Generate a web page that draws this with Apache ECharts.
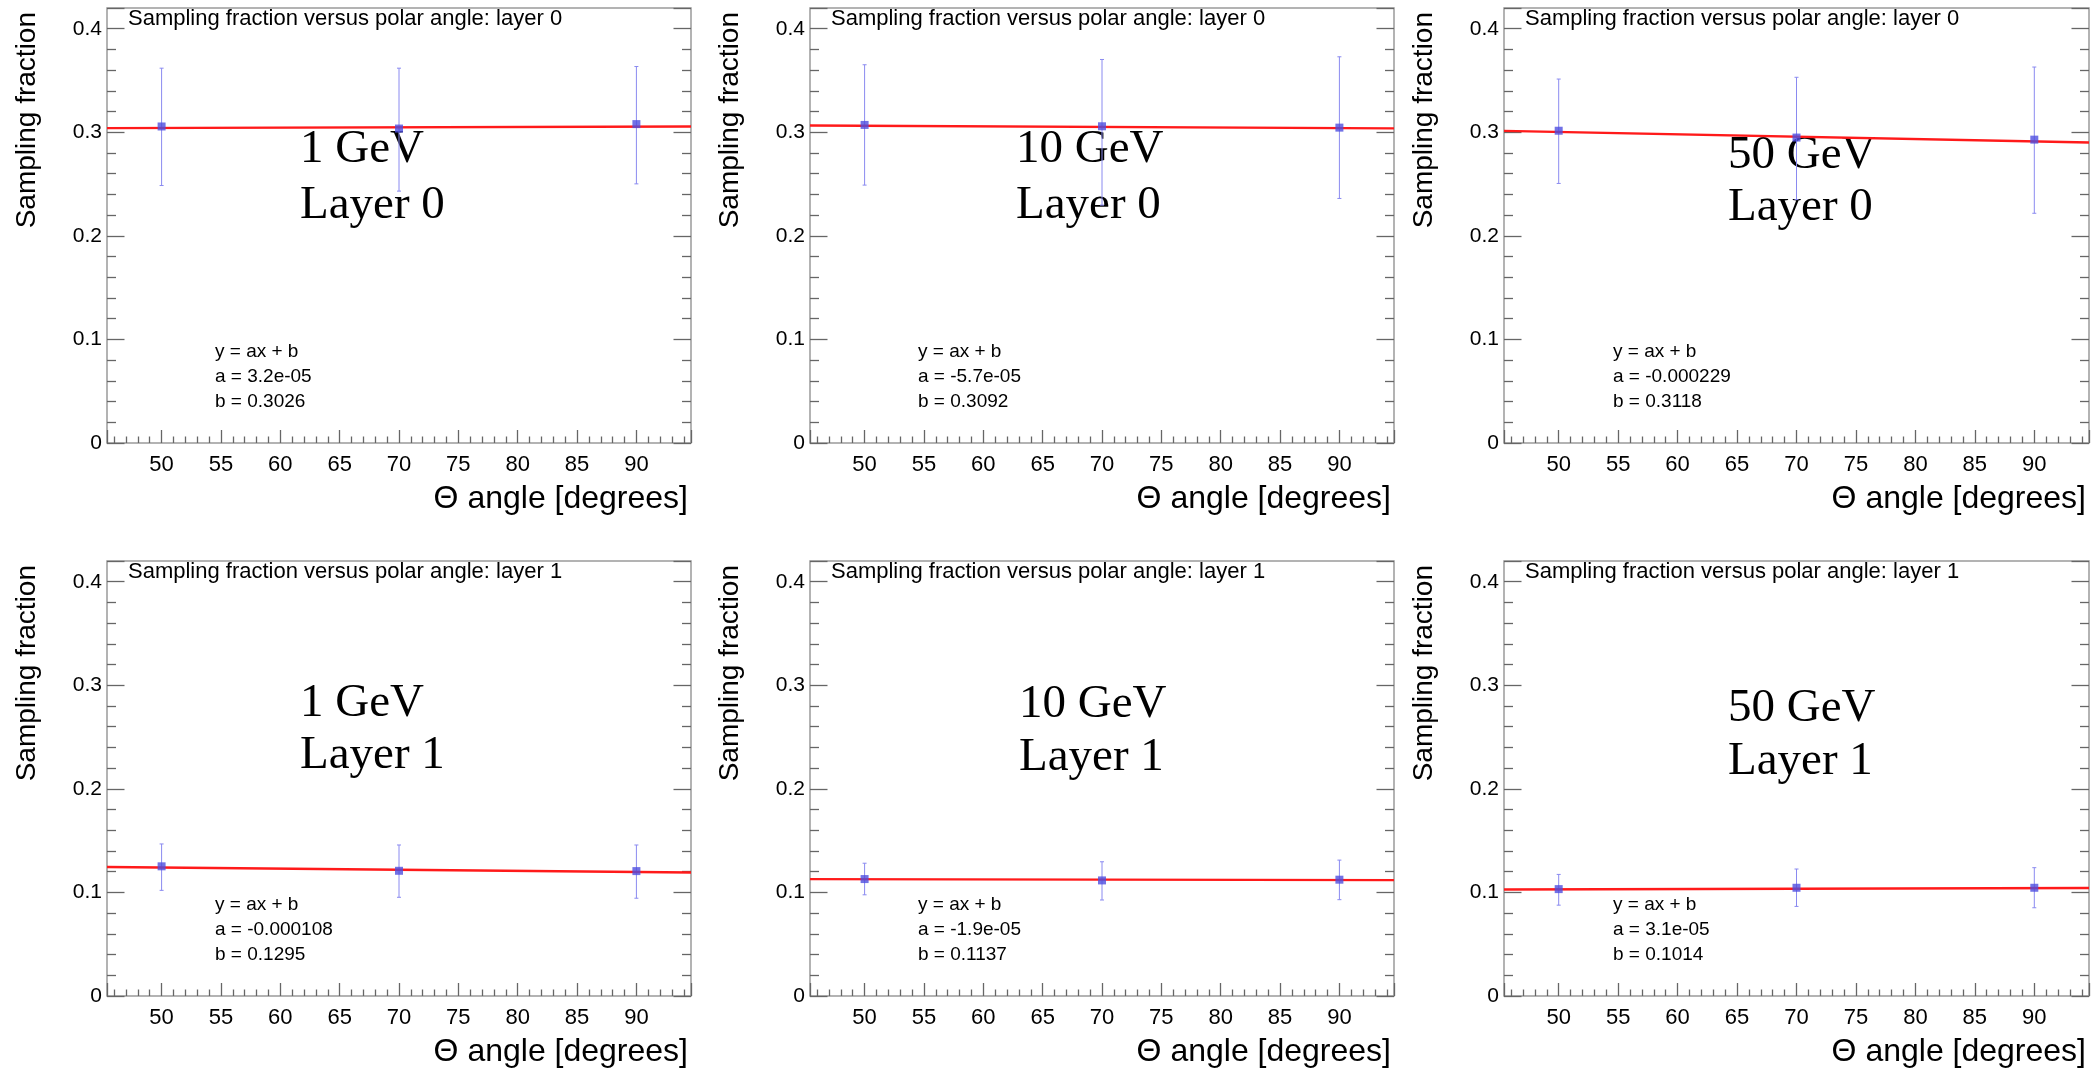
<!DOCTYPE html>
<html><head><meta charset="utf-8">
<script src="https://cdn.jsdelivr.net/npm/echarts@6/dist/echarts.min.js"></script>
<style>html,body{margin:0;padding:0;background:#fff}#c{width:2097px;height:1070px}</style>
</head><body><div id="c"></div>
<script>
// ---------------- data ----------------
const thetaValues = [50, 70, 90];
const xRange = [45.4, 94.6];
const yRange = [0, 0.42];
const energies = ['1 GeV', '10 GeV', '50 GeV'];
const layers = ['Layer 0', 'Layer 1'];
const panelTitles = ['Sampling fraction versus polar angle: layer 0', 'Sampling fraction versus polar angle: layer 1'];
const xTitle = 'Θ angle [degrees]';
const yTitle = 'Sampling fraction';

// measured points (value, lower error end, upper error end)
const p1Y = [0.3056, 0.3036, 0.3079], p1Lo = [0.2486, 0.2432, 0.2502], p1Hi = [0.3619, 0.3619, 0.3635];
const p2Y = [0.3071, 0.3058, 0.3045], p2Lo = [0.2490, 0.2297, 0.2361], p2Hi = [0.3652, 0.3703, 0.3729];
const p3Y = [0.3015, 0.2949, 0.2929], p3Lo = [0.2506, 0.2350, 0.2218], p3Hi = [0.3514, 0.3531, 0.3630];
const p4Y = [0.1252, 0.1209, 0.1206], p4Lo = [0.1020, 0.0953, 0.0944], p4Hi = [0.1468, 0.1458, 0.1458];
const p5Y = [0.1129, 0.1116, 0.1123], p5Lo = [0.0977, 0.0927, 0.0930], p5Hi = [0.1282, 0.1296, 0.1312];
const p6Y = [0.1032, 0.1045, 0.1045], p6Lo = [0.0877, 0.0865, 0.0852], p6Hi = [0.1174, 0.1226, 0.1239];

// fitted straight line, end points at the frame edges
const fit1 = [0.30405, 0.30563];
const fit2 = [0.30661, 0.30381];
const fit3 = [0.30140, 0.29014];
const fit4 = [0.12460, 0.11928];
const fit5 = [0.11284, 0.11190];
const fit6 = [0.10281, 0.10433];

const fitA = ['3.2e-05', '-5.7e-05', '-0.000229', '-0.000108', '-1.9e-05', '3.1e-05'];
const fitB = ['0.3026', '0.3092', '0.3118', '0.1295', '0.1137', '0.1014'];

// ---------------- layout ----------------
const panels = [
  {Y: p1Y, Lo: p1Lo, Hi: p1Hi, fit: fit1},
  {Y: p2Y, Lo: p2Lo, Hi: p2Hi, fit: fit2},
  {Y: p3Y, Lo: p3Lo, Hi: p3Hi, fit: fit3},
  {Y: p4Y, Lo: p4Lo, Hi: p4Hi, fit: fit4},
  {Y: p5Y, Lo: p5Lo, Hi: p5Hi, fit: fit5},
  {Y: p6Y, Lo: p6Lo, Hi: p6Hi, fit: fit6}
];
const colLeft = [107, 810, 1504];
const colW = [584, 584, 585];
const rowTop = [8, 561];
const gridH = 435;
const bigTextX = [[300, 1016, 1728], [300, 1019, 1728]];
const bigTextY = [[[150, 205.5], [150, 205.5], [156, 208]], [[703.5, 756], [705, 758], [709, 762]]];
const statX = [215, 918, 1613];

const SANS = 'Liberation Sans, Arial, Helvetica, sans-serif';
const SERIF = 'Liberation Serif, Times New Roman, serif';
const tickColor = '#666';
const frameColor = '#9a9a9a';

const grids = [], xAxes = [], yAxes = [], series = [], graphics = [];

function errRender(params, api) {
  const x = api.value(0), lo = api.value(1), hi = api.value(2);
  const a = api.coord([x, lo]), b = api.coord([x, hi]);
  const c = 2;
  const st = {stroke: '#8a8af0', lineWidth: 1};
  return {type: 'group', children: [
    {type: 'line', shape: {x1: a[0], y1: a[1], x2: b[0], y2: b[1]}, style: st},
    {type: 'line', shape: {x1: a[0] - c, y1: a[1], x2: a[0] + c, y2: a[1]}, style: st},
    {type: 'line', shape: {x1: b[0] - c, y1: b[1], x2: b[0] + c, y2: b[1]}, style: st}
  ]};
}

for (let r = 0; r < 2; r++) {
  for (let c = 0; c < 3; c++) {
    const i = r * 3 + c;
    const P = panels[i];
    const left = colLeft[c], top = rowTop[r], w = colW[c];
    grids.push({left: left, top: top, width: w, height: gridH, show: true,
      borderColor: frameColor, borderWidth: 1.5, backgroundColor: 'transparent'});
    xAxes.push({type: 'value', gridIndex: i, min: xRange[0], max: xRange[1], splitNumber: 10,
      axisLine: {show: false},
      axisTick: {show: true, inside: true, length: 13, lineStyle: {color: tickColor, width: 1.3}},
      minorTick: {show: true, splitNumber: 5, length: 6.5, lineStyle: {color: tickColor, width: 1.3}},
      splitLine: {show: false},
      axisLabel: {show: true, showMinLabel: false, showMaxLabel: false, margin: 11,
        fontFamily: SANS, fontSize: 22, color: '#000'}
    });
    const yBase = {type: 'value', gridIndex: i, min: yRange[0], max: yRange[1], interval: 0.1,
      axisLine: {show: false}, splitLine: {show: false},
      axisTick: {show: true, inside: true, length: 17.5, lineStyle: {color: tickColor, width: 1.3}},
      minorTick: {show: true, splitNumber: 5, length: 9, lineStyle: {color: tickColor, width: 1.3}}
    };
    yAxes.push(Object.assign({}, yBase, {position: 'left',
      axisLabel: {show: true, showMaxLabel: false, margin: 5, fontFamily: SANS, fontSize: 21, color: '#000',
        formatter: v => (Math.abs(v * 10 - Math.round(v * 10)) < 1e-6 ? String(Math.round(v * 10) / 10) : '')}}));
    yAxes.push(Object.assign({}, yBase, {position: 'right', axisLabel: {show: false}}));

    const errData = thetaValues.map((x, k) => [x, P.Lo[k], P.Hi[k]]);
    series.push({type: 'custom', xAxisIndex: i, yAxisIndex: 2 * i, renderItem: errRender,
      data: errData, encode: {x: 0, y: [1, 2]}, silent: true, z: 2});
    series.push({type: 'line', xAxisIndex: i, yAxisIndex: 2 * i, showSymbol: false, symbol: 'none',
      data: [[xRange[0], P.fit[0]], [xRange[1], P.fit[1]]],
      lineStyle: {color: '#ff1a1a', width: 2.4}, silent: true, z: 3, animation: false});
    series.push({type: 'scatter', xAxisIndex: i, yAxisIndex: 2 * i, symbol: 'rect', symbolSize: 8,
      data: thetaValues.map((x, k) => [x, P.Y[k]]), itemStyle: {color: '#4d4de0'}, silent: true, z: 4});

    // texts
    graphics.push({type: 'text', x: left + 21, y: top + 11, style: {text: panelTitles[r], font: '22px ' + SANS,
      fill: '#000', align: 'left', verticalAlign: 'middle'}});
    graphics.push({type: 'text', x: bigTextX[r][c], y: bigTextY[r][c][0], style: {text: energies[c],
      font: '47px ' + SERIF, fill: '#000', align: 'left', verticalAlign: 'middle'}});
    graphics.push({type: 'text', x: bigTextX[r][c], y: bigTextY[r][c][1], style: {text: layers[r],
      font: '47px ' + SERIF, fill: '#000', align: 'left', verticalAlign: 'middle'}});
    const bot = top + gridH;
    const statLines = ['y = ax + b', 'a = ' + fitA[i], 'b = ' + fitB[i]];
    const statOff = [91, 66, 41];
    statLines.forEach((t, k) => graphics.push({type: 'text', x: statX[c], y: bot - statOff[k],
      style: {text: t, font: '19px ' + SANS, fill: '#000', align: 'left', verticalAlign: 'middle'}}));
    graphics.push({type: 'text', x: left + w - 3, y: bot + 56, style: {text: xTitle, font: '32px ' + SANS,
      fill: '#000', align: 'right', verticalAlign: 'middle'}});
    graphics.push({type: 'text', x: left - 80, y: top + 4, rotation: Math.PI / 2, style: {text: yTitle,
      font: '28px ' + SANS, fill: '#000', align: 'right', verticalAlign: 'middle'}});
  }
}

const chart = echarts.init(document.getElementById('c'), null, {renderer: 'canvas'});
chart.setOption({
  animation: false,
  backgroundColor: '#fff',
  grid: grids, xAxis: xAxes, yAxis: yAxes, series: series,
  graphic: {elements: graphics}
});
</script>
</body></html>
